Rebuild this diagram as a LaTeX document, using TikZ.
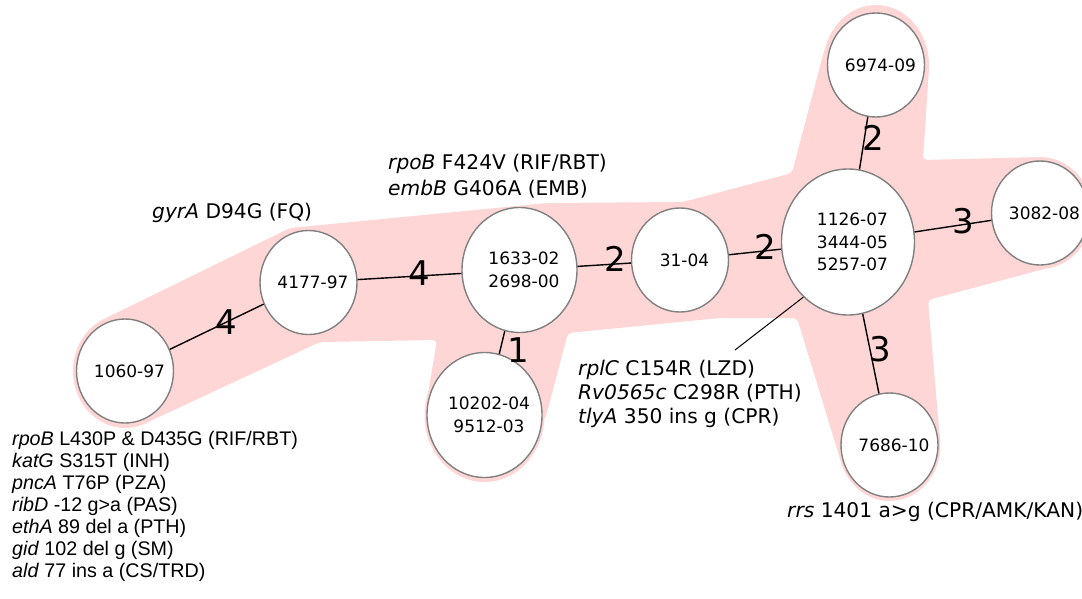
\documentclass[tikz,border=0pt]{standalone}
\usepackage{fontspec}
\setmainfont{DejaVu Sans}
\newfontfamily\arialf{Liberation Sans}
\usetikzlibrary{shapes.geometric}
\definecolor{pinkbg}{RGB}{255,214,214}
\definecolor{nodeedge}{RGB}{128,128,128}
\newcommand{\nl}[1]{\makebox[0pt]{\hspace*{9pt}#1}}
\begin{document}
\begin{tikzpicture}[x=1pt,y=-1pt,
  iso/.style={ellipse,draw=nodeedge,line width=1.4pt,fill=white,inner sep=0pt,
    font=\fontsize{17}{22.5}\selectfont,align=center},
  isosmall/.style={iso,minimum width=97pt,minimum height=104pt},
  isomid/.style={iso,minimum width=115pt,minimum height=125pt},
  isobig/.style={iso,minimum width=133pt,minimum height=146pt},
  conn/.style={line width=1.4pt,black},
  elab/.style={font=\fontsize{34}{34}\selectfont,inner sep=0pt},
  ann/.style={font=\fontsize{20.2}{24}\selectfont,align=left,anchor=west,inner sep=0pt},
  annA/.style={font=\arialf\fontsize{19.7}{22}\selectfont,align=left,anchor=west,inner sep=0pt}]
\useasboundingbox (0,0) rectangle (1082,598);

% pink background
\fill[pinkbg,rounded corners=4pt]
  (104,319) -- (290,228) -- (547,203) -- (683,202) -- (792,173) -- (825,47)
  -- (929,68) -- (923,160) -- (1040,157) -- (1048,268) -- (928,300)
  -- (940,440) -- (841,462) -- (797,318) -- (720,318) -- (568,333)
  -- (545,420) -- (426,405) -- (437,340) -- (320,342) -- (146,423) -- cycle;
\fill[pinkbg] (125,371) ellipse [x radius=52, y radius=57];
\fill[pinkbg] (484.5,415) ellipse [x radius=60, y radius=67];
\fill[pinkbg] (889.5,445) ellipse [x radius=51, y radius=56];
\fill[pinkbg] (876,65) ellipse [x radius=53, y radius=60];
\fill[pinkbg] (1040,213) ellipse [x radius=52, y radius=56];

% nodes
\node[isosmall] (n1060) at (125,371) {\nl{1060-97}};
\node[isosmall] (n4177) at (308.5,282.5) {\nl{4177-97}};
\node[isomid] (n1633) at (519.5,270) {\nl{1633-02}\\\nl{2698-00}};
\node[isomid] (n10202) at (484.5,415) {\nl{10202-04}\\\nl{9512-03}};
\node[isosmall] (n3104) at (680,260) {\nl{31-04}};
\node[isobig] (n1126) at (848,242) {\nl{1126-07}\\\nl{3444-05}\\\nl{5257-07}};
\node[isosmall] (n6974) at (876,65) {\nl{6974-09}};
\node[isosmall] (n3082) at (1040,213) {\nl{3082-08}};
\node[isosmall] (n7686) at (889.5,445) {\nl{7686-10}};

% connectors
\draw[conn] (n1060) -- (n4177);
\draw[conn] (n4177) -- (n1633);
\draw[conn] (n1633) -- (n10202);
\draw[conn] (n1633) -- (n3104);
\draw[conn] (n3104) -- (n1126);
\draw[conn] (n1126) -- (n6974);
\draw[conn] (n1126) -- (n3082);
\draw[conn] (n1126) -- (n7686);
\coordinate (ptr) at (735,350);
\draw[line width=1pt] (n1126.-129) -- (ptr);

% edge labels
\node[elab] (e1) at (226,322) {4};
\node[elab] (e2) at (419,273) {4};
\node[elab] (e3) at (518,350) {1};
\node[elab] (e4) at (615,259) {2};
\node[elab] (e5) at (765,247) {2};
\node[elab] (e6) at (873,138) {2};
\node[elab] (e7) at (963,221) {3};
\node[elab] (e8) at (880,349) {3};

% annotations
\node[ann] (tgyr) at (152,213) {\textit{gyrA} D94G (FQ)};
\node[ann,font=\fontsize{20.2}{26}\selectfont] (trpo) at (388,176.5) {\textit{rpoB} F424V (RIF/RBT)\\\textit{embB} G406A (EMB)};
\node[ann] (trpl) at (578,394) {\textit{rplC} C154R (LZD)\\\textit{Rv0565c} C298R (PTH)\\\textit{tlyA} 350 ins g (CPR)};
\node[ann] (trrs) at (787,512) {\textit{rrs} 1401 a>g (CPR/AMK/KAN)};
\node[annA] (tleft) at (12,506.5) {\textit{rpoB} L430P \& D435G (RIF/RBT)\\\textit{katG} S315T (INH)\\\textit{pncA} T76P (PZA)\\\textit{ribD} -12 g>a (PAS)\\\textit{ethA} 89 del a (PTH)\\\textit{gid} 102 del g (SM)\\\textit{ald} 77 ins a (CS/TRD)};
\end{tikzpicture}
\end{document}
